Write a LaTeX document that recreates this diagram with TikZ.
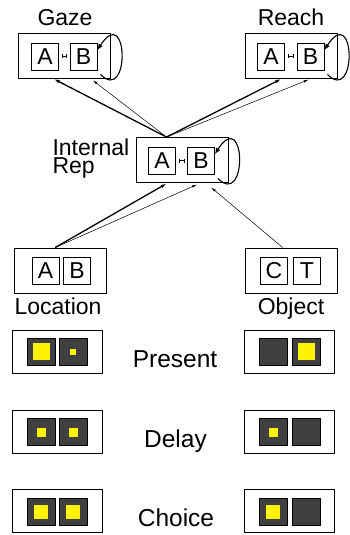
\documentclass[tikz,border=0pt]{standalone}
\usepackage{fontspec}
\setmainfont{Liberation Sans}
\usetikzlibrary{arrows.meta}
\definecolor{lampgray}{HTML}{404040}

\begin{document}
\begin{tikzpicture}[x=1pt,y=-1pt,
	modbox/.style={draw,line width=0.9pt,minimum width=92pt,minimum height=45pt,inner sep=0pt},
	cell/.style={draw,line width=0.8pt,minimum size=27pt,inner sep=0pt,font=\fontsize{23}{23}\selectfont,text height=16.5pt,text depth=0pt},
	title/.style={anchor=base,font=\fontsize{23}{18}\selectfont},
	rowtitle/.style={anchor=base,font=\fontsize{24.5}{24.5}\selectfont},
	linkbar/.style={line width=0.6pt,{Bar[width=4pt]}-{Bar[width=4pt]},shorten <=3pt,shorten >=3pt},
	selfloop/.style={line width=1.1pt,-{Latex[length=6pt,width=5pt]}},
	strong/.style={line width=1.3pt,-{Latex[length=6pt,width=3.5pt]},shorten >=1pt},
	weak/.style={line width=0.5pt,-{Latex[length=5pt,width=2.5pt]}},
	panel/.style={draw,line width=0.9pt,minimum width=90pt,minimum height=43pt,inner sep=0pt},
	lamp/.style={draw,fill=lampgray,line width=0.9pt,minimum width=28pt,minimum height=27pt,inner sep=0pt},
	light/.style={fill=yellow,inner sep=0pt,minimum size=#1}]
	\useasboundingbox (0,0) rectangle (350,535);

	% top modules
	\node[title] (gazet) at (65,25.5) {Gaze};
	\node[modbox] (gaze) at (64,55.5) {};
	\node[cell] (gazea) at (45,56.5) {A};
	\node[cell] (gazeb) at (83.5,56.5) {B};
	\draw[linkbar] (gazea) -- (gazeb);
	\draw[selfloop] ([xshift=3pt,yshift=-4pt]gazeb.south east) .. controls +(30,30) and +(31,-48) .. ([yshift=6.5pt]gazeb.east);

	\node[title] (reacht) at (291,25.5) {Reach};
	\node[modbox] (reach) at (291.5,55.5) {};
	\node[cell] (reacha) at (271,56.5) {A};
	\node[cell] (reachb) at (310.5,56.5) {B};
	\draw[linkbar] (reacha) -- (reachb);
	\draw[selfloop] ([xshift=3pt,yshift=-4pt]reachb.south east) .. controls +(30,30) and +(31,-48) .. ([yshift=6.5pt]reachb.east);

	\node[title,anchor=base west,align=left] (intrept) at (49,173) {Internal\\Rep};
	\node[modbox] (intrep) at (182,160) {};
	\node[cell] (intrepa) at (162,160.5) {A};
	\node[cell] (intrepb) at (201,160.5) {B};
	\draw[linkbar] (intrepa) -- (intrepb);
	\draw[selfloop] ([xshift=3pt,yshift=-4pt]intrepb.south east) .. controls +(30,30) and +(31,-48) .. ([yshift=6.5pt]intrepb.east);

	\node[modbox] (loc) at (60,270.5) {};
	\node[cell] (loca) at (45.5,270.5) {A};
	\node[cell] (locb) at (77,270.5) {B};
	\node[title] (loct) at (58,314) {Location};

	\node[modbox] (obj) at (291,270.5) {};
	\node[cell] (objc) at (274,270.5) {C};
	\node[cell] (objt) at (307,270.5) {T};
	\node[title] (objtt) at (291,314) {Object};

	% connections
	\draw[strong] (intrep.124) -- (gaze.-116);
	\draw[weak,shorten >=3pt] (intrep.124) -- (gaze.-41);
	\draw[strong] (intrep.124) -- (reach.-112);
	\draw[weak,shorten >=3pt] (intrep.124) -- (reach.-49);
	\draw[strong] (loc.102) -- (intrep.-122);
	\draw[weak,shorten >=4pt] (loc.102) -- (intrep.-51);
	\draw[weak,shorten >=7pt] (obj.110) -- (intrep.-44);

	% input rows
	\node[panel] (presl) at (57,352) {};
	\node[lamp] (presl1) at (41,351.5) {};
	\node[lamp] (presl2) at (73,351.5) {};
	\node[light=17pt] (presl1y) at (presl1) {};
	\node[light=6pt] (presl2y) at (presl2) {};
	\node[rowtitle] (prest) at (175,367) {Present};
	\node[panel] (presr) at (289,352) {};
	\node[lamp] (presr1) at (273,351.5) {};
	\node[lamp] (presr2) at (306,351.5) {};
	\node[light=17pt] (presr2y) at (presr2) {};

	\node[panel] (dell) at (57,432) {};
	\node[lamp] (dell1) at (41,432) {};
	\node[lamp] (dell2) at (73,432) {};
	\node[light=9pt] (dell1y) at (dell1) {};
	\node[light=9pt] (dell2y) at (dell2) {};
	\node[rowtitle] (delt) at (175.5,447) {Delay};
	\node[panel] (delr) at (289,432) {};
	\node[lamp] (delr1) at (273,432) {};
	\node[lamp] (delr2) at (306,432) {};
	\node[light=9pt] (delr1y) at (delr1) {};

	\node[panel] (chol) at (57,511) {};
	\node[lamp] (chol1) at (41,511.5) {};
	\node[lamp] (chol2) at (73,511.5) {};
	\node[light=14pt] (chol1y) at (chol1) {};
	\node[light=14pt] (chol2y) at (chol2) {};
	\node[rowtitle] (chot) at (176,526) {Choice};
	\node[panel] (chor) at (289,511) {};
	\node[lamp] (chor1) at (273,511.5) {};
	\node[lamp] (chor2) at (306,511.5) {};
	\node[light=14pt] (chor1y) at (chor1) {};
\end{tikzpicture}
\end{document}
